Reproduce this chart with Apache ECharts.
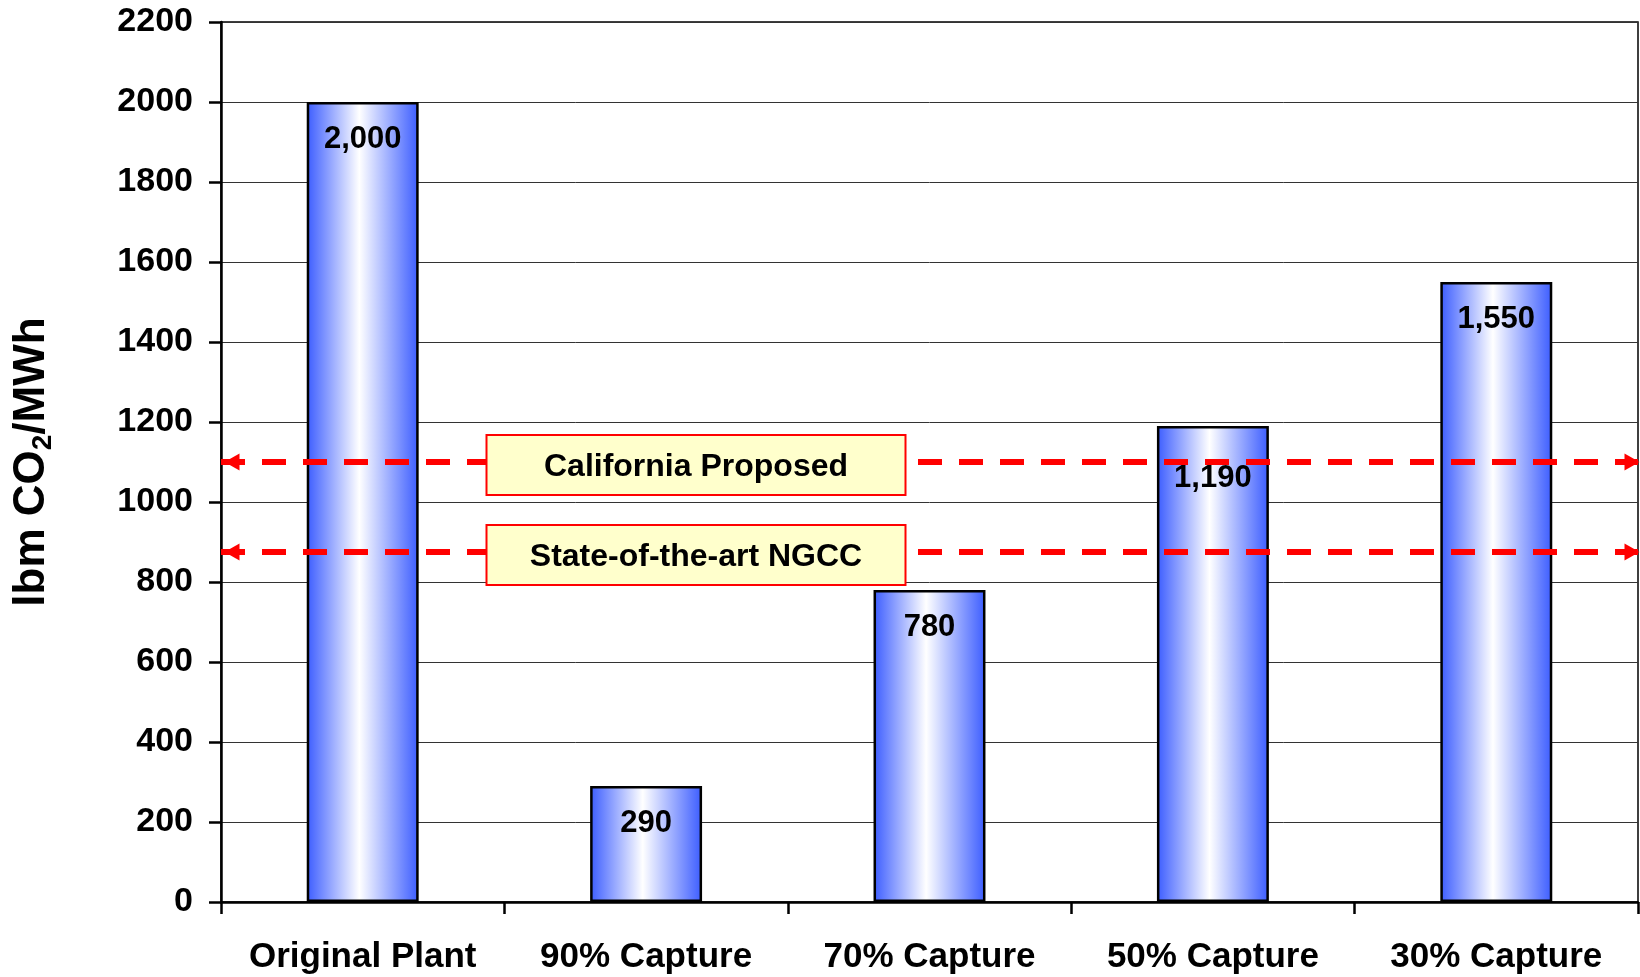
<!DOCTYPE html>
<html>
<head>
<meta charset="utf-8">
<script src="https://cdn.jsdelivr.net/npm/echarts@6/dist/echarts.min.js"></script>
<style>
  html, body { margin: 0; padding: 0; background: #fff; }
  #chart { width: 1640px; height: 977px; }
</style>
</head>
<body>
<div id="chart"></div>
<script>
// Emission rate by capture scenario (lbm CO2 per MWh)
const categories = ['Original Plant', '90% Capture', '70% Capture', '50% Capture', '30% Capture'];
const emissions = [2000, 290, 780, 1190, 1550];

// Reference limits drawn as dashed horizontal lines
const limitNames = ['California Proposed', 'State-of-the-art NGCC'];
const limitValues = [1100, 875];

const FONT = '"Liberation Sans", Arial, Helvetica, sans-serif';

const chart = echarts.init(document.getElementById('chart'), null, { renderer: 'canvas' });

const barGradient = new echarts.graphic.LinearGradient(0, 0, 1, 0, [
  { offset: 0, color: '#3b5cff' },
  { offset: 0.47, color: '#ffffff' },
  { offset: 1, color: '#3b5cff' }
]);

// The 50% label sits a little lower so it clears the limit line
const barData = emissions.map((v, i) =>
  i === 3 ? { value: v, label: { distance: 37 } } : v
);

const option = {
  backgroundColor: '#ffffff',
  animation: false,
  grid: {
    left: 221, right: 2, top: 22, bottom: 75,
    show: true, borderColor: '#000', borderWidth: 1.5,
    containLabel: false, outerBoundsMode: 'none'
  },
  xAxis: {
    type: 'category',
    data: categories,
    axisLine: { lineStyle: { color: '#000', width: 2.5 } },
    axisTick: { show: true, length: 12, lineStyle: { color: '#000', width: 2.5 } },
    axisLabel: {
      interval: 0,
      color: '#000', fontFamily: FONT, fontWeight: 'bold', fontSize: 35, margin: 38
    },
    splitLine: { show: false }
  },
  yAxis: {
    type: 'value',
    min: 0, max: 2200, interval: 200,
    name: '{a|lbm CO}{s|2}{a|/MWh}',
    nameLocation: 'middle',
    nameRotate: 90,
    nameGap: 164,
    nameTextStyle: {
      fontFamily: FONT, fontWeight: 'bold', fontSize: 44, color: '#000',
      rich: {
        a: { fontFamily: FONT, fontWeight: 'bold', fontSize: 44, color: '#000', lineHeight: 50 },
        s: { fontFamily: FONT, fontWeight: 'bold', fontSize: 28, color: '#000', lineHeight: 28, verticalAlign: 'bottom' }
      }
    },
    axisLine: { show: true, lineStyle: { color: '#000', width: 2.5 } },
    axisTick: { show: true, length: 12, lineStyle: { color: '#000', width: 2.5 } },
    axisLabel: {
      color: '#000', fontFamily: FONT, fontWeight: 'bold', fontSize: 34, margin: 28,
      formatter: v => String(v)
    },
    splitLine: { show: true, lineStyle: { color: '#333', width: 1 } }
  },
  series: [{
    type: 'bar',
    data: barData,
    barWidth: '39.5%',
    itemStyle: { color: barGradient, borderColor: '#000', borderWidth: 2.5 },
    label: {
      show: true,
      position: 'insideTop',
      distance: 22,
      color: '#000',
      fontFamily: FONT,
      fontWeight: 'bold',
      fontSize: 31,
      formatter: p => p.value.toLocaleString('en-US')
    },
    markLine: {
      silent: true,
      symbol: ['triangle', 'triangle'],
      symbolSize: [17, 15],
      symbolOffset: [[0, 11], [0, 6]],
      label: { show: false },
      lineStyle: { color: '#ff0000', width: 6, type: [24, 17] },
      emphasis: { disabled: true },
      data: limitValues.map(v => ({ yAxis: v }))
    },
    z: 2
  }]
};

chart.setOption(option);

// Yellow name boxes sitting on each limit line
const boxWidth = 419, boxHeight = 60, boxCenterX = 696;
chart.setOption({
  graphic: limitValues.map((v, i) => {
    const y = chart.convertToPixel({ yAxisIndex: 0 }, v);
    return {
      type: 'group',
      x: boxCenterX - boxWidth / 2,
      y: y - boxHeight / 2 + 3,
      zlevel: 1,
      z: 100,
      children: [
        {
          type: 'rect',
          zlevel: 1, z: 100,
          shape: { x: 0, y: 0, width: boxWidth, height: boxHeight },
          style: { fill: '#ffffcc', stroke: '#ff0000', lineWidth: 2 }
        },
        {
          type: 'text',
          zlevel: 1, z: 101,
          x: boxWidth / 2, y: boxHeight / 2 + 2,
          style: {
            text: limitNames[i],
            fill: '#000',
            font: 'bold 32px ' + FONT,
            align: 'center',
            verticalAlign: 'middle'
          }
        }
      ]
    };
  })
});
</script>
</body>
</html>
